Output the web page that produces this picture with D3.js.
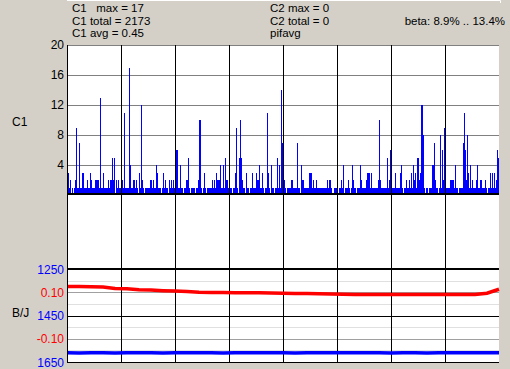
<!DOCTYPE html>
<html>
<head>
<meta charset="utf-8">
<script src="https://cdn.jsdelivr.net/npm/d3@7"></script>
<style>
  body { margin: 0; background: #d4d0c8; }
  svg text { font-family: "Liberation Sans", Arial, sans-serif; white-space: pre; }
</style>
</head>
<body>
<svg id="chart"></svg>
<script>
// C1 counts, one value per pixel column of the plot
const c1Counts = [
  3,3,1,2,0,1,0,1,2,9, 1,1,7,1,1,3,3,1,1,1, 2,1,1,3,2,1,1,1,2,2, 2,2,1,13,1,1,3,1,1,1, 1,2,1,2,2,5,2,5,0,2, 1,2,1,1,
  1,2,1,11,1,1,1,1,17,4, 1,1,2,2,1,2,1,0,3,1, 12,2,1,0,1,1,1,1,1,2, 2,1,2,1,1,4,3,1,1,1, 0,1,3,1,2,1,1,0,2,1, 2,1,2,1,
  6,6,6,1,1,4,1,1,0,1, 1,2,2,5,1,0,1,1,1,1, 0,1,1,2,10,10,1,0,1,3, 1,0,1,1,1,1,1,2,1,2, 1,3,2,2,2,4,1,1,4,1, 5,2,2,1,
  1,1,1,0,1,1,3,9,1,0, 5,10,5,2,1,1,0,3,1,1, 0,1,1,3,1,1,1,3,2,2, 4,1,1,3,1,0,1,1,11,3, 1,0,4,1,1,0,1,1,5,1, 4,1,14,7,
  1,2,1,0,1,1,1,1,2,2, 1,1,1,1,7,1,1,0,4,2, 2,1,1,1,1,1,3,3,3,1, 2,1,1,2,1,1,1,1,1,1, 1,1,1,1,2,1,2,2,1,0, 0,1,1,1,
  1,0,1,1,2,1,4,0,1,1, 1,2,1,0,1,4,2,1,1,0, 1,1,1,4,2,1,1,1,1,2, 3,3,3,1,3,1,1,1,1,1, 1,2,10,2,1,1,1,1,1,1, 5,1,2,6,
  6,1,1,1,3,1,1,1,1,3, 4,1,0,1,1,2,1,1,2,1, 3,1,4,2,3,1,5,5,2,3, 12,12,8,1,0,1,1,0,1,1, 1,4,4,7,2,1,1,0,1,8, 1,6,2,9,
  8,1,1,1,1,2,2,2,2,1, 4,1,1,0,1,1,1,1,7,11, 6,2,8,3,1,4,1,2,1,1, 1,2,4,1,1,2,2,1,1,1, 2,1,0,1,1,3,1,3,1,3, 1,2,6,5
];

// beta (red) and B/J (blue), sampled evenly across the width
const betaValues = [
  0.127,0.127,0.126,0.125,0.118,0.117,0.113,0.112,0.109,0.107,
  0.105,0.102,0.101,0.101,0.100,0.100,0.100,0.099,0.098,0.097,
  0.097,0.096,0.095,0.094,0.093,0.093,0.092,0.092,0.092,0.092,
  0.092,0.092,0.092,0.092,0.093,0.098,0.115
];
const bjValues = [
  1608,1609,1608,1608,1609,1608,1608,1608,1609,1608,
  1608,1608,1608,1609,1608,1608,1608,1608,1608,1609,
  1608,1608,1608,1608,1608,1608,1608,1609,1608,1608,
  1609,1608,1608,1608,1608,1608,1608
];

const c1Ticks = [4, 8, 12, 16, 20];
const bjTicks = [1250, 1450, 1650];
const betaTicks = [0.10, -0.10];
const bjGrid = [1300, 1350, 1400, 1450, 1500, 1550, 1600, 1650];
const divisions = [54, 108, 162, 216, 270, 324, 378];

const infoLeft = ["C1   max = 17", "C1 total = 2173", "C1 avg = 0.45"];
const infoMid = ["C2 max = 0", "C2 total = 0", "pifavg"];
const infoRight = "beta: 8.9% .. 13.4%";

const W = 510, H = 369;
const plot = { left: 67, right: 499, top: 45, bottom: 363 };

function init() {
  const svg = d3.select("#chart").attr("width", W).attr("height", H);
  svg.append("rect").attr("width", W).attr("height", H).attr("fill", "#d4d0c8");

  // white edge of the panel above
  svg.append("path").attr("d", "M67,0.5H500.5V3").attr("fill", "none").attr("stroke", "#fff");

  svg.append("rect")
    .attr("x", plot.left).attr("y", plot.top)
    .attr("width", plot.right - plot.left).attr("height", plot.bottom - plot.top)
    .attr("fill", "#fff");

  const x = d3.scaleLinear().domain([0, c1Counts.length]).range([plot.left, plot.right]);

  drawInfo(svg);
  drawUpper(svg, x);
  drawLower(svg, x);

  // vertical division lines
  svg.append("g").selectAll("line")
    .data(divisions)
    .enter()
    .append("line")
    .attr("x1", (d) => Math.floor(x(d)) + 0.5)
    .attr("x2", (d) => Math.floor(x(d)) + 0.5)
    .attr("y1", plot.top).attr("y2", plot.bottom)
    .attr("stroke", "#000");

  drawLowerSeries(svg, x);

  svg.append("line")
    .attr("x1", plot.left + 0.5).attr("x2", plot.left + 0.5)
    .attr("y1", plot.top).attr("y2", plot.bottom)
    .attr("stroke", "#000");
}

function drawInfo(svg) {
  const g = svg.append("g").style("font-size", "11.5px").attr("fill", "#000");
  g.selectAll("text.left").data(infoLeft).enter().append("text")
    .attr("class", "left").attr("x", 72).attr("y", (d, i) => 12 + i * 12.5).text((d) => d);
  g.selectAll("text.mid").data(infoMid).enter().append("text")
    .attr("class", "mid").attr("x", 270).attr("y", (d, i) => 12 + i * 12.5).text((d) => d);
  g.append("text").attr("x", 505).attr("y", 24.5).attr("text-anchor", "end").text(infoRight);
}

function drawUpper(svg, x) {
  const y = d3.scaleLinear().domain([0, 20]).range([195.3, 45.3]);

  svg.append("g").selectAll("line")
    .data(c1Ticks)
    .enter()
    .append("line")
    .attr("x1", plot.left).attr("x2", plot.right)
    .attr("y1", (d) => Math.floor(y(d)) + 0.5)
    .attr("y2", (d) => Math.floor(y(d)) + 0.5)
    .attr("stroke", "#808080");

  svg.append("g").selectAll("text")
    .data(c1Ticks)
    .enter()
    .append("text")
    .attr("x", 64).attr("y", (d) => y(d) + 4)
    .attr("text-anchor", "end")
    .style("font-size", "12px")
    .text((d) => d);

  svg.append("g").selectAll("rect")
    .data(c1Counts)
    .enter()
    .append("rect")
    .attr("x", (d, i) => x(i))
    .attr("width", (d, i) => x(i + 1) - x(i))
    .attr("y", (d) => Math.round(y(d)))
    .attr("height", (d) => Math.max(0, 195 - Math.round(y(d))))
    .attr("fill", "#0000ff");

  svg.append("line")
    .attr("x1", plot.left).attr("x2", plot.right)
    .attr("y1", 194).attr("y2", 194)
    .attr("stroke", "#000").attr("stroke-width", 2);

  svg.append("text").attr("x", 12).attr("y", 126).style("font-size", "12px").text("C1");
}

function drawLower(svg, x) {
  const yB = d3.scaleLinear().domain([1250, 1650]).range([269.5, 362.5]);
  const yR = d3.scaleLinear().domain([0.2, -0.2]).range([269.5, 362.5]);

  const gridColor = (d) => (d === 1450 || d === 1650) ? "#000" : (d === 1350 || d === 1550) ? "#a0a0a0" : "#e0e0e0";
  svg.append("g").selectAll("line")
    .data(bjGrid)
    .enter()
    .append("line")
    .attr("x1", plot.left).attr("x2", plot.right)
    .attr("y1", (d) => Math.floor(yB(d)) + 0.5)
    .attr("y2", (d) => Math.floor(yB(d)) + 0.5)
    .attr("stroke", gridColor);

  // top line of the panel (1250)
  svg.append("line")
    .attr("x1", plot.left).attr("x2", plot.right)
    .attr("y1", yB(1250) - 0.5).attr("y2", yB(1250) - 0.5)
    .attr("stroke", "#000").attr("stroke-width", 2);

  svg.append("g").selectAll("text")
    .data(bjTicks)
    .enter()
    .append("text")
    .attr("x", 64).attr("y", (d) => yB(d) + 4)
    .attr("text-anchor", "end")
    .attr("fill", "#0000ff")
    .style("font-size", "12px")
    .text((d) => d);

  svg.append("g").selectAll("text")
    .data(betaTicks)
    .enter()
    .append("text")
    .attr("x", 64).attr("y", (d) => yR(d) + 4)
    .attr("text-anchor", "end")
    .attr("fill", "#ff0000")
    .style("font-size", "12px")
    .text((d) => d.toFixed(2));

  svg.append("text").attr("x", 12).attr("y", 317).style("font-size", "12px").text("B/J");
}

function drawLowerSeries(svg, x) {
  const yB = d3.scaleLinear().domain([1250, 1650]).range([269.5, 362.5]);
  const yR = d3.scaleLinear().domain([0.2, -0.2]).range([269.5, 362.5]);
  const xs = d3.scaleLinear().domain([0, betaValues.length - 1]).range([x(0), x(c1Counts.length)]);

  svg.append("path")
    .datum(betaValues)
    .attr("d", d3.line().x((d, i) => xs(i)).y((d) => yR(d)))
    .attr("fill", "none")
    .attr("stroke", "#ff0000")
    .attr("stroke-width", 3.5);

  svg.append("path")
    .datum(bjValues)
    .attr("d", d3.line().x((d, i) => xs(i)).y((d) => yB(d)))
    .attr("fill", "none")
    .attr("stroke", "#0000ff")
    .attr("stroke-width", 3.5);
}

init();
</script>
</body>
</html>
